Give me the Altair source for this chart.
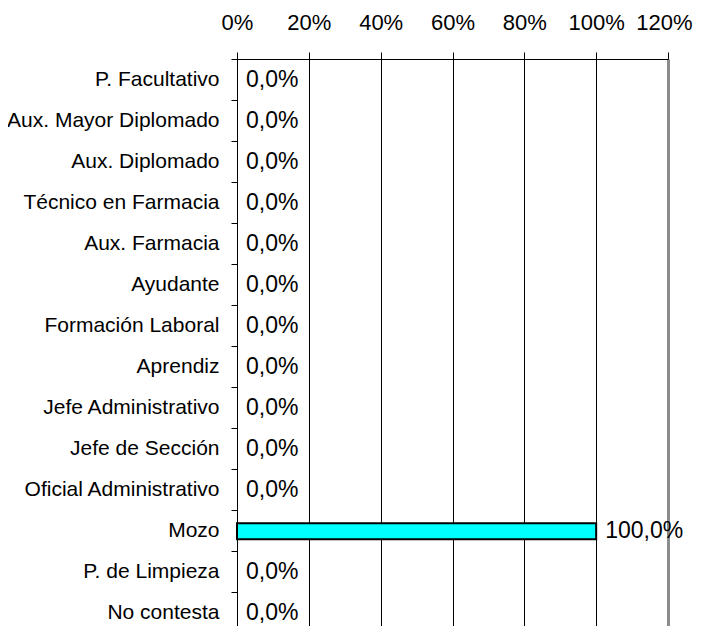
import altair as alt
import pandas as pd

categories = [
    "P. Facultativo",
    "Aux. Mayor Diplomado",
    "Aux. Diplomado",
    "Técnico en Farmacia",
    "Aux. Farmacia",
    "Ayudante",
    "Formación Laboral",
    "Aprendiz",
    "Jefe Administrativo",
    "Jefe de Sección",
    "Oficial Administrativo",
    "Mozo",
    "P. de Limpieza",
    "No contesta",
]
values = [0.0, 0.0, 0.0, 0.0, 0.0, 0.0, 0.0, 0.0, 0.0, 0.0, 0.0, 1.0, 0.0, 0.0]
x_ticks = [0.0, 0.2, 0.4, 0.6, 0.8, 1.0, 1.2]

df = pd.DataFrame({"cat": categories, "value": values})

FONT = "Liberation Sans"
BAND_RANGE = 575

y_enc = alt.Y(
    "cat:N",
    sort=categories,
    scale=alt.Scale(paddingInner=0, paddingOuter=0, range=[0, BAND_RANGE]),
    axis=alt.Axis(
        title=None,
        orient="left",
        labelFontSize=21,
        labelFont=FONT,
        labelColor="black",
        labelPadding=12,
        labelLimit=0,
        tickSize=6,
        tickColor="black",
        domainColor="black",
        bandPosition=0,
        grid=False,
    ),
)

x_enc = alt.X(
    "value:Q",
    scale=alt.Scale(domain=[0, 1.2], nice=False, zero=True),
    axis=alt.Axis(
        title=None,
        orient="top",
        values=x_ticks,
        format=".0%",
        labelFontSize=22,
        labelFont=FONT,
        labelColor="black",
        labelPadding=18,
        labelOffset={"condition": {"test": "datum.value > 1.19", "value": -4}, "value": 0},
        tickSize=7,
        tickColor="black",
        domainColor="black",
        grid=True,
        gridColor={"condition": {"test": "datum.value > 1.19", "value": "#8c8c8c"}, "value": "black"},
        gridWidth={"condition": {"test": "datum.value > 1.19", "value": 3}, "value": 1},
        gridOpacity=1,
        labelFlush=False,
        labelOverlap=False,
    ),
)

base = alt.Chart(df)

bars = base.transform_filter("datum.value > 0").mark_bar(
    size=16, fill="#00ffff", stroke="black", strokeWidth=2
).encode(x=x_enc, y=y_enc)

labels = base.transform_calculate(
    label="replace(format(datum.value, '.1%'), '.', ',')"
).mark_text(
    align="left", baseline="middle", dx=9, fontSize=23, font=FONT, color="black"
).encode(x=x_enc, y=y_enc, text="label:N")

chart = (
    alt.layer(bars, labels)
    .properties(
        width=431,
        height=567,
        autosize=alt.AutoSizeParams(type="none"),
        padding={"left": 229, "top": 51, "right": 25, "bottom": 0},
    )
    .configure_view(stroke=None)
    .configure(background="white")
)

chart.save("out.html", embed_options={"renderer": "svg", "actions": False})
